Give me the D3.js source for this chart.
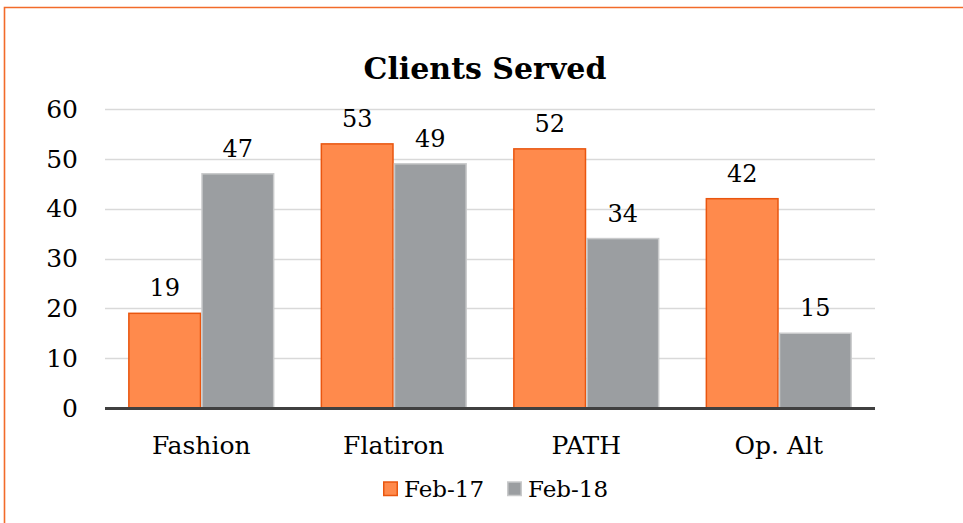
<!DOCTYPE html>
<html>
<head>
<meta charset="utf-8">
<script src="https://cdn.jsdelivr.net/npm/d3@7"></script>
<style>
  html, body { margin: 0; padding: 0; background: #fff; }
  svg text { font-family: "DejaVu Serif", "Liberation Serif", serif; fill: #000; }
</style>
</head>
<body>
<svg id="chart" width="963" height="523"></svg>
<script>
const categories = ['Fashion', 'Flatiron', 'PATH', 'Op. Alt'];
const seriesNames = ['Feb-17', 'Feb-18'];
const feb17 = [19, 53, 52, 42];
const feb18 = [47, 49, 34, 15];
const yTicks = [0, 10, 20, 30, 40, 50, 60];

const colors = {
  'Feb-17': { fill: '#FF8A4C', stroke: '#E9560F' },
  'Feb-18': { fill: '#9B9EA1', stroke: '#C9CACB' }
};

const svg = d3.select('#chart');
const margin = { top: 109, left: 105, right: 88, bottom: 115 };
const W = 963, H = 523;
const cW = W - margin.left - margin.right;
const cH = H - margin.top - margin.bottom;

// frame
svg.append('path')
  .attr('d', `M4.5,${H} L4.5,7.5 L${W},7.5`)
  .attr('fill', 'none').attr('stroke', '#F26B2A').attr('stroke-width', 1.6);

svg.append('text')
  .attr('x', 485).attr('y', 79)
  .attr('text-anchor', 'middle')
  .style('font-size', '30px').style('font-weight', 'bold')
  .text('Clients Served');

const g = svg.append('g').attr('transform', `translate(${margin.left},${margin.top})`);

const x0 = d3.scaleBand().domain(categories).range([0, cW]).paddingInner(0.24).paddingOuter(0.12);
const x1 = d3.scaleBand().domain(seriesNames).range([0, x0.bandwidth()]);
const y = d3.scaleLinear().domain([0, 60]).range([cH, 0]);

// gridlines
g.append('g').selectAll('line').data(yTicks.filter(d => d > 0)).join('line')
  .attr('x1', 0).attr('x2', cW)
  .attr('y1', d => Math.round(y(d)) + 0.5).attr('y2', d => Math.round(y(d)) + 0.5)
  .attr('stroke', '#D9D9D9').attr('stroke-width', 1.5);

// y labels
g.append('g').selectAll('text').data(yTicks).join('text')
  .attr('x', -27).attr('y', d => y(d))
  .attr('dy', '0.35em').attr('text-anchor', 'end')
  .style('font-size', '25px')
  .text(d => d);

const rows = categories.map((c, i) => ({ cat: c, values: [
  { key: 'Feb-17', value: feb17[i] },
  { key: 'Feb-18', value: feb18[i] }
]}));

const groups = g.append('g').selectAll('g').data(rows).join('g')
  .attr('transform', d => `translate(${x0(d.cat)},0)`);

groups.selectAll('rect').data(d => d.values).join('rect')
  .attr('x', d => x1(d.key) + 0.75)
  .attr('y', d => y(d.value))
  .attr('width', x1.bandwidth() - 1.5)
  .attr('height', d => cH - y(d.value))
  .attr('fill', d => colors[d.key].fill)
  .attr('stroke', d => colors[d.key].stroke)
  .attr('stroke-width', 1.5);

groups.selectAll('text').data(d => d.values).join('text')
  .attr('x', d => x1(d.key) + x1.bandwidth() / 2)
  .attr('y', d => y(d.value) - 17)
  .attr('text-anchor', 'middle')
  .style('font-size', '24px')
  .text(d => d.value);

// axis line
g.append('line')
  .attr('x1', 0).attr('x2', cW).attr('y1', cH + 0.5).attr('y2', cH + 0.5)
  .attr('stroke', '#404040').attr('stroke-width', 3);

// category labels
g.append('g').selectAll('text').data(categories).join('text')
  .attr('x', d => x0(d) + x0.bandwidth() / 2)
  .attr('y', cH + 46)
  .attr('text-anchor', 'middle')
  .style('font-size', '25px')
  .text(d => d);

// legend
const legend = svg.append('g').attr('transform', 'translate(383,489)');
const legendX = [0, 124];
seriesNames.forEach((s, i) => {
  const lg = legend.append('g').attr('transform', `translate(${legendX[i]},0)`);
  lg.append('rect').attr('x', 0.75).attr('y', -7).attr('width', 13.5).attr('height', 13.5)
    .attr('fill', colors[s].fill).attr('stroke', colors[s].stroke).attr('stroke-width', 1.5);
  lg.append('text').attr('x', 21).attr('y', 0).attr('dy', '0.35em')
    .style('font-size', '23px').text(s);
});
</script>
</body>
</html>
